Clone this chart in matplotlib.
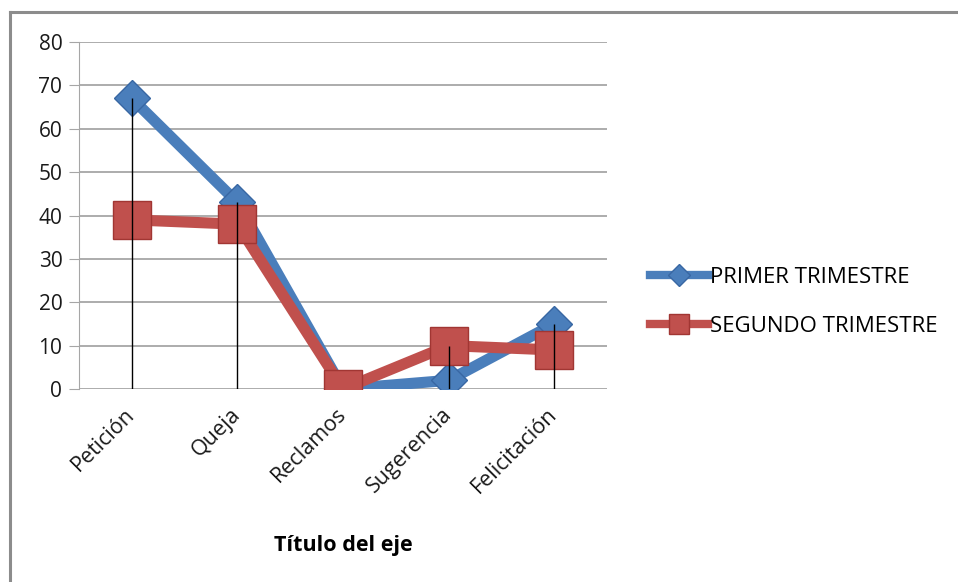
import matplotlib
matplotlib.use("Agg")
import matplotlib.pyplot as plt
import numpy as np
from matplotlib.lines import Line2D

plt.rcParams["font.family"] = ["Open Sans", "DejaVu Sans"]

categorias = ["Petición", "Queja", "Reclamos", "Sugerencia", "Felicitación"]
primer_trimestre = [67, 43, 0, 2, 15]
segundo_trimestre = [39, 38, 0, 10, 9]
serie_nombres = ["PRIMER TRIMESTRE", "SEGUNDO TRIMESTRE"]
y_ticks = [0, 10, 20, 30, 40, 50, 60, 70, 80]

AZUL = "#4a7ebb"
AZUL_BORDE = "#3867a3"
ROJO = "#c0504d"
ROJO_BORDE = "#a13633"

W, H = 958, 582
fig = plt.figure(figsize=(W / 100, H / 100), dpi=100)
fig.patch.set_facecolor("white")

# chart frame (top and left edges visible)
fig.add_artist(Line2D([10 / W, 10 / W], [0, 1 - 12 / H], transform=fig.transFigure,
                      color="#8c8c8c", lw=2.2))
fig.add_artist(Line2D([10 / W, 1], [1 - 12 / H, 1 - 12 / H], transform=fig.transFigure,
                      color="#8c8c8c", lw=2.2))

ax = fig.add_axes([79 / W, 1 - 389 / H, (607 - 79) / W, (389 - 42) / H])
x = np.arange(len(categorias))

ax.plot(x, primer_trimestre, color=AZUL, lw=8, marker="D", ms=18,
        markerfacecolor=AZUL, markeredgecolor=AZUL_BORDE, markeredgewidth=1,
        zorder=3, solid_joinstyle="miter")
ax.plot(x, segundo_trimestre, color=ROJO, lw=8, marker="s", ms=27,
        markerfacecolor=ROJO, markeredgecolor=ROJO_BORDE, markeredgewidth=1,
        zorder=4, solid_joinstyle="miter")

# drop lines from the highest point of each category
tope = np.maximum(primer_trimestre, segundo_trimestre)
ax.vlines(x, 0, tope, color="black", lw=1, zorder=5)

ax.set_xlim(-0.5, len(categorias) - 0.5)
ax.set_ylim(0, 80)
ax.set_yticks(y_ticks)
ax.set_xticks(x)
ax.set_xticklabels(categorias, rotation=45, ha="right", va="center",
                   rotation_mode="anchor", fontsize=15.5, color="#1a1a1a")
ax.tick_params(axis="y", labelsize=15, labelcolor="#1a1a1a", length=7,
               color="#a6a6a6", pad=5)
ax.tick_params(axis="x", length=0, pad=16)
ax.yaxis.grid(True, color="#a6a6a6", lw=1.3)
ax.set_axisbelow(True)
for side in ["top", "right", "bottom"]:
    ax.spines[side].set_visible(False)
ax.spines["left"].set_color("#a6a6a6")
ax.set_xlabel("Título del eje", fontsize=15.5, fontweight="bold", labelpad=27)

handles = [
    Line2D([0], [0], color=AZUL, lw=6, marker="D", ms=11, markerfacecolor=AZUL,
           markeredgecolor=AZUL_BORDE),
    Line2D([0], [0], color=ROJO, lw=6, marker="s", ms=14, markerfacecolor=ROJO,
           markeredgecolor=ROJO_BORDE),
]
fig.legend(handles, serie_nombres, loc="center left",
           bbox_to_anchor=(630 / W, 1 - 302 / H), frameon=False, fontsize=16,
           handlelength=2.6, handletextpad=0.1, labelspacing=1.25)

fig.savefig("out.png", dpi=100)
